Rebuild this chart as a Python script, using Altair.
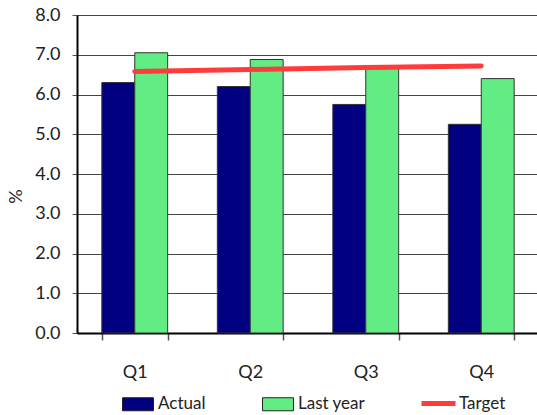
import altair as alt
import pandas as pd

# Quarterly rates (%)
quarters = ["Q1", "Q2", "Q3", "Q4"]
actual = [6.3, 6.2, 5.75, 5.25]
last_year = [7.05, 6.88, 6.65, 6.4]
target = [6.58, 6.63, 6.68, 6.72]

bar_series = ["Actual", "Last year"]
bar_colors = ["#000080", "#62EC84"]
line_series = ["Target"]
line_colors = ["#FF3B3B"]

FONT = "Lato"

bars_df = pd.DataFrame(
    {
        "quarter": quarters * 2,
        "series": ["Actual"] * 4 + ["Last year"] * 4,
        "value": actual + last_year,
    }
)
target_df = pd.DataFrame({"quarter": quarters, "series": ["Target"] * 4, "value": target})

legend_common = dict(
    title=None,
    orient="none",
    direction="horizontal",
    labelFont=FONT,
    labelFontSize=17,
    labelColor="#222222",
    padding=0,
)

fill = alt.Fill(
    "series:N",
    scale=alt.Scale(domain=bar_series, range=bar_colors),
    legend=alt.Legend(
        legendX=45,
        legendY=373,
        columnPadding=54,
        symbolSize=961,
        labelOffset=4,
        symbolType="M-1,-0.42H1V0.42H-1Z",
        symbolStrokeColor="#222222",
        symbolStrokeWidth=1,
        symbolOpacity=1,
        **legend_common,
    ),
)

stroke = alt.Stroke(
    "series:N",
    scale=alt.Scale(domain=line_series, range=line_colors),
    legend=alt.Legend(
        legendX=342,
        legendY=369,
        symbolSize=1156,
        labelOffset=1,
        symbolType="stroke",
        symbolStrokeWidth=5,
        **legend_common,
    ),
)

x = alt.X(
    "quarter:N",
    sort=quarters,
    scale=alt.Scale(range=[0, 462], paddingInner=0.43, paddingOuter=0.215),
    axis=alt.Axis(
        title=None,
        labelAngle=0,
        labelFont=FONT,
        labelFontSize=18,
        labelColor="#222222",
        labelPadding=23,
        tickBand="extent",
        tickSize=7,
        tickColor="#555555",
        tickWidth=1.5,
        domainColor="#000000",
        domainWidth=2,
        grid=False,
    ),
)

y = alt.Y(
    "value:Q",
    scale=alt.Scale(domain=[0, 8], nice=False),
    axis=alt.Axis(
        title="%",
        titleFont=FONT,
        titleFontSize=18,
        titleFontWeight="normal",
        titleColor="#222222",
        titleX=-52,
        titleY=181,
        titleAngle=-90,
        values=[0, 1, 2, 3, 4, 5, 6, 7, 8],
        format=".1f",
        labelFont=FONT,
        labelFontSize=18,
        labelColor="#222222",
        labelPadding=12,
        tickSize=5,
        tickColor="#555555",
        domainColor="#000000",
        domainWidth=2,
        grid=True,
        gridColor="#444444",
        gridWidth=1,
    ),
)

bars = (
    alt.Chart(bars_df)
    .mark_bar(stroke="#333333", strokeWidth=1)
    .encode(
        x=x,
        xOffset=alt.XOffset("series:N", scale=alt.Scale(domain=bar_series, paddingInner=0, paddingOuter=0)),
        y=y,
        fill=fill,
    )
)

line = (
    alt.Chart(target_df)
    .mark_line(strokeWidth=5, strokeCap="round")
    .encode(x=x, y=y, stroke=stroke)
)

chart = (
    alt.layer(bars, line)
    .properties(
        width=460,
        height=318,
        autosize=alt.AutoSizeParams(type="none"),
        padding={"left": 77, "top": 15, "right": 0, "bottom": 82},
    )
    .configure_view(stroke=None)
    .configure(background="#ffffff")
)

chart.save("out.html", embed_options={"renderer": "svg", "actions": False})
